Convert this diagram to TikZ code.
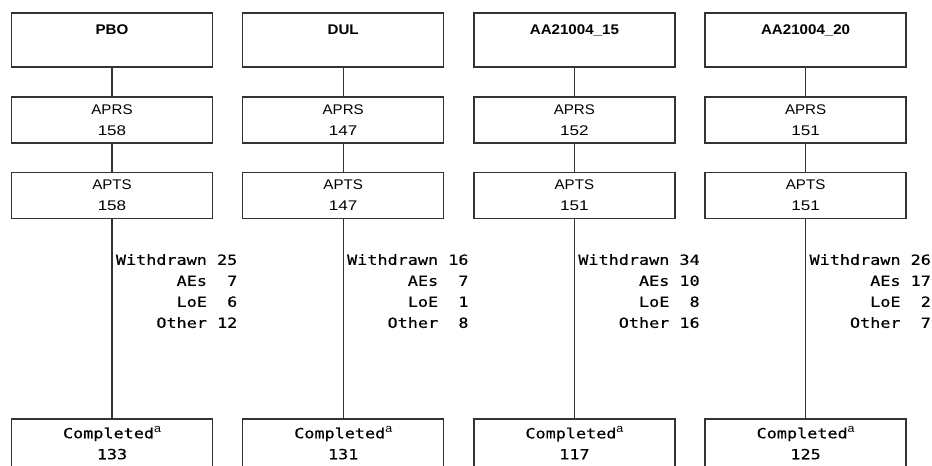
\documentclass[tikz,border=0pt]{standalone}
\usepackage{fontspec}
\setmainfont{Liberation Sans}[FakeStretch=1.08]
\newfontfamily\numfont{Liberation Sans}[FakeStretch=1.22]
\newfontfamily\monofont{DejaVu Sans Mono}[FakeStretch=1.2,FakeBold=0.5]
\begin{document}
\begin{tikzpicture}[x=1pt,y=-1pt,
  box/.style={draw=black!80,line width=1.35pt,minimum width=201pt,inner sep=0pt,align=center,
    font=\fontsize{14}{21}\selectfont},
  hdr/.style={box,minimum height=54pt},
  midbox/.style={box,minimum height=46pt},
  endbox/.style={box,minimum height=48pt},
  hdrtxt/.style={inner sep=0pt,font=\fontsize{14}{21}\selectfont\bfseries},
  wd/.style={inner sep=0pt,anchor=north east,align=right,font=\fontsize{14}{21}\selectfont\monofont},
  conn/.style={draw=black!80,line width=1.35pt}]
\useasboundingbox (0,0) rectangle (932,466);
\clip (0,0) rectangle (932,466);
\foreach \c/\name/\aprs/\apts/\wdn/\aes/\loe/\oth/\comp/\i in {
  112/PBO/158/158/25/\phantom{0}7/\phantom{0}6/12/133/1,
  343.2/DUL/147/147/16/\phantom{0}7/\phantom{0}1/\phantom{0}8/131/2,
  574.4/AA21004\_15/152/151/34/10/\phantom{0}8/16/117/3,
  805.6/AA21004\_20/151/151/26/17/\phantom{0}2/\phantom{0}7/125/4}{
  \node[hdr] (h\i) at (\c,40) {};
  \node[hdrtxt] (ht\i) at (\c,30) {\name};
  \node[midbox] (r\i) at (\c,120) {APRS\\{\numfont\aprs}};
  \node[midbox] (t\i) at (\c,195.5) {APTS\\{\numfont\apts}};
  \node[endbox] (c\i) at (\c,443) {{\monofont Completed}\raisebox{5.5pt}{\fontsize{11.5}{11.5}\selectfont a}\\{\monofont \comp}};
  \node[wd] (w\i) at ([xshift=125.5pt]\c,254) {Withdrawn \wdn\\AEs \aes\\LoE \loe\\Other \oth};
  \draw[conn] (h\i.south) -- (r\i.north);
  \draw[conn] (r\i.south) -- (t\i.north);
  \draw[conn] (t\i.south) -- (c\i.north);
}
\end{tikzpicture}
\end{document}
